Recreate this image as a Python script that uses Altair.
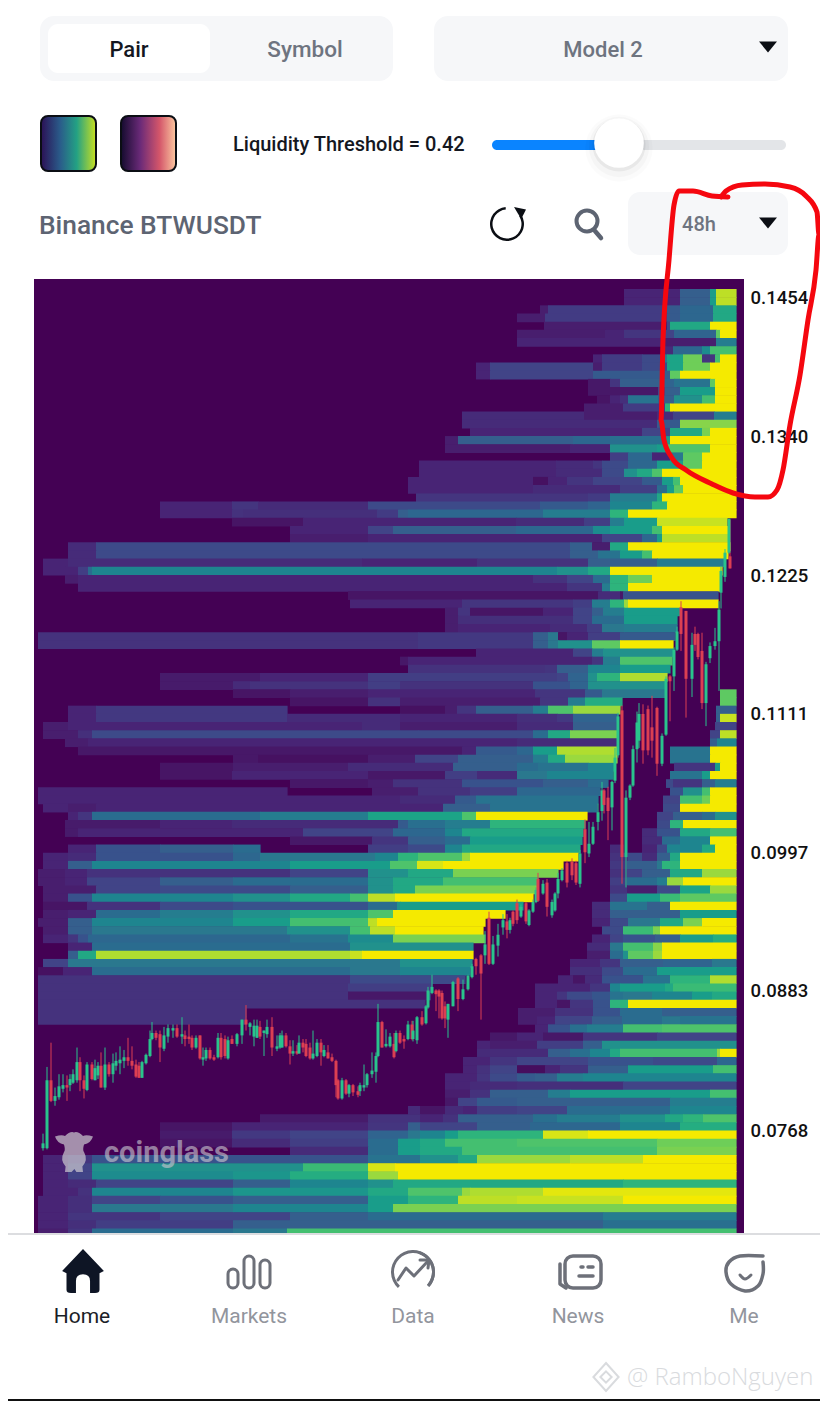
import math
import altair as alt
import pandas as pd

# ---------- price axis ----------
price_ticks = [0.1454, 0.1340, 0.1225, 0.1111, 0.0997, 0.0883, 0.0768]
row_top_price = 0.14614
row_step = 0.0006736
VIRIDIS_POS = [0, .1, .2, .3, .4, .5, .6, .7, .8, .9, 1]
VIRIDIS_COL = ["#440154", "#482475", "#414487", "#355f8d", "#2a788e", "#21918c",
               "#22a884", "#44bf70", "#7ad151", "#bddf26", "#f5ea00"]

# liquidity rows, top to bottom: (time position where a run starts, liquidity level)
heat_rows = [
[(624,.1),(680,.3),(710,.55),(716,.9)],
[(624,.1),(680,.3),(710,.55),(716,.9)],
[(540,.08),(548,.17),(667,.28),(680,.33),(713,.6)],
[(517,.08),(545,.17),(667,.28),(680,.33),(713,.6)],
[(544,.08),(667,.22),(670,.6),(710,1)],
[(517,.08),(605,.1),(624,.15),(665,.2),(674,.32),(716,.75),(720,1)],
[(517,.1),(665,.08),(716,.42)],
[(665,.12),(673,.33),(702,.48),(710,.7)],
[(593,.1),(602,.17),(642,.22),(665,.42),(667,.58),(683,.78),(702,.15),(715,.7),(720,1)],
[(476,.1),(490,.2),(593,.08),(602,.17),(642,.22),(667,.58),(683,.78),(710,1)],
[(476,.1),(490,.2),(593,.28),(665,.3),(670,.75),(680,1)],
[(588,.06),(610,.15),(620,.3),(665,.32),(674,.38),(710,.75),(715,1)],
[(588,.06),(658,.2),(665,.3),(680,.55),(715,1)],
[(597,.05),(610,.1),(620,.13),(628,.38),(658,.3),(674,.5),(702,.7),(715,1)],
[(584,.08),(623,.17),(665,.65),(670,1)],
[(462,.12),(584,.08),(657,.12),(673,.2),(714,.42)],
[(462,.12),(657,.28),(680,.82)],
[(470,.1),(642,.2),(670,.6),(702,.8),(710,1)],
[(445,.08),(458,.3),(573,.33),(610,.36),(663,.55),(670,1)],
[(445,.08),(570,.1),(610,.5),(657,.55),(667,.72),(710,1)],
[(610,.18),(628,.33),(652,.1),(670,.4),(683,.75),(702,1)],
[(419,.1),(556,.12),(593,.15),(602,.22),(628,.33),(657,.55),(683,.75),(702,1)],
[(419,.1),(556,.12),(602,.22),(624,.5),(637,.6),(652,.72),(662,1)],
[(408,.1),(533,.04),(548,.1),(567,.15),(593,.2),(642,.28),(662,.55),(673,.7),(680,1)],
[(408,.1),(533,.12),(620,.18),(657,.35),(667,.55),(674,.75),(683,1)],
[(416,.15),(588,.17),(610,.42),(657,.6),(662,1)],
[(160,.1),(232,.15),(258,.12),(368,.22),(540,.28),(588,.32),(610,.45),(652,.65),(667,1)],
[(160,.1),(232,.14),(243,.13),(377,.17),(398,.3),(408,.33),(543,.42),(610,.65),(628,1)],
[(232,.05),(303,.1),(516,.12),(584,.18),(610,.42),(624,.55),(657,.92),(727,0)],
[(290,.1),(368,.2),(393,.3),(516,.33),(593,.48),(610,.55),(652,.7),(662,1),(728,0)],
[(290,.08),(368,.1),(602,.2),(642,.33),(657,.55),(662,.9),(728,0)],
[(68,.12),(96,.22),(570,.3),(592,.08),(610,.6),(628,1),(730,0)],
[(68,.12),(96,.22),(570,.3),(598,.38),(620,.55),(642,.7),(652,1),(728,0)],
[(43,.1),(68,.12),(362,.1),(477,.14),(588,.3),(657,.42),(725,0)],
[(43,.1),(65,.1),(78,.18),(88,.35),(92,.45),(557,.5),(588,.6),(610,1),(722,0)],
[(65,.08),(78,.1),(533,.14),(567,.2),(593,.35),(610,.65),(628,.78),(652,1),(720,0)],
[(78,.1),(567,.15),(602,.42),(610,.65),(628,1),(720,0)],
[(348,.05),(598,.12),(620,.06),(623,.25),(718,0)],
[(350,.1),(462,.15),(573,.18),(592,.42),(610,.65),(624,.85),(628,1),(718,0)],
[(445,.08),(458,.15),(470,.05),(543,.1),(573,.2),(592,.3),(603,.42),(624,.55),(680,0)],
[(445,.08),(458,.13),(573,.2),(592,.35),(624,.55),(677,0)],
[(445,.08),(458,.1),(550,.12),(587,.18),(602,.4),(624,.42),(677,0)],
[(38,.14),(418,.16),(533,.3),(548,.4),(558,.05),(567,.1),(588,.18),(620,.28),(675,0)],
[(38,.14),(418,.16),(533,.3),(548,.4),(558,.5),(592,.75),(620,1),(673,0)],
[(476,.1),(573,.2),(592,.42),(603,.5),(673,0)],
[(400,.06),(408,.1),(592,.15),(603,.42),(620,.72),(672,0)],
[(408,.14),(545,.15),(557,.3),(588,.45),(620,.55),(670,0)],
[(160,.07),(260,.1),(368,.18),(557,.2),(568,.32),(588,.5),(597,.65),(620,.88),(667,0)],
[(160,.07),(233,.12),(250,.14),(368,.18),(400,.14),(533,.25),(570,.32),(588,.5),(665,0)],
[(233,.05),(290,.08),(368,.1),(535,.15),(585,.28),(602,.4),(665,0),(720,.75)],
[(290,.05),(368,.14),(400,.08),(540,.15),(568,.42),(585,.62),(622,0),(720,.75)],
[(68,.1),(96,.16),(287,0),(400,.04),(445,.08),(457,.15),(476,.3),(533,.42),(548,.72),(573,.85),(620,0),(716,.3)],
[(68,.1),(96,.16),(287,.12),(400,.1),(517,.13),(557,.16),(573,.32),(618,0),(716,.3),(720,.92)],
[(43,.08),(68,.1),(362,.12),(400,.08),(517,.12),(573,.3),(618,0),(715,.2)],
[(43,.08),(78,.13),(92,.22),(418,.22),(533,.35),(548,.6),(570,.8),(618,0),(710,.2),(720,.9)],
[(65,.08),(88,.1),(517,.12),(617,0),(710,.3),(717,.45)],
[(78,.06),(462,.1),(476,.28),(517,.33),(533,.55),(557,.88),(618,0),(670,.38),(710,1)],
[(233,.06),(258,.04),(368,.08),(415,.2),(458,.3),(533,.42),(548,.6),(565,.85),(617,0),(670,.38),(710,1)],
[(160,.05),(233,.08),(348,.12),(453,.3),(517,.35),(538,.38),(588,.45),(615,0),(674,.15),(715,.55),(720,1)],
[(160,.05),(232,.1),(368,.06),(445,.18),(477,.12),(517,.4),(547,.45),(613,0),(670,.38),(702,.55),(710,1)],
[(290,.06),(368,.08),(393,.14),(462,.25),(543,.3),(588,.35),(608,0),(666,.22),(673,.15),(702,.3),(715,.42)],
[(38,.1),(287,0),(372,.08),(418,.14),(470,.18),(517,.33),(600,0),(670,.25),(683,.5),(702,.7),(710,1)],
[(38,.1),(400,.12),(455,.28),(476,.38),(598,0),(663,.2),(680,.7),(702,.78),(710,1)],
[(43,.1),(68,.08),(96,.1),(443,.3),(490,.38),(597,0),(663,.22),(680,1)],
[(68,.1),(78,.15),(92,.35),(260,.42),(368,.58),(462,.72),(476,1),(587,0),(657,.2),(673,.3),(702,.35),(715,.5)],
[(65,.07),(160,.1),(232,.12),(398,.28),(408,.36),(445,.42),(490,.65),(585,0),(657,.22),(670,.65),(683,1)],
[(65,.07),(78,.1),(303,.2),(393,.33),(445,.45),(462,.6),(583,0),(642,.12),(657,.25),(680,.6),(710,.7)],
[(290,.06),(372,.15),(408,.3),(445,.35),(470,.55),(582,0),(642,.12),(662,.35),(680,.45),(710,1)],
[(68,.1),(96,.25),(160,.3),(233,.35),(260,0),(368,.18),(408,.22),(445,.45),(462,.6),(580,0),(610,.12),(623,0),(642,.1),(657,.22),(667,.45),(702,.6),(715,1)],
[(43,.1),(68,.12),(96,.25),(233,.33),(260,.4),(375,.45),(398,.65),(418,.72),(462,.85),(470,1),(578,0),(610,.14),(628,.22),(642,.12),(657,.3),(670,.6),(680,1)],
[(43,.1),(68,.3),(92,.45),(290,.55),(390,.72),(417,.95),(443,1),(563,0),(610,.16),(627,.3),(657,.4),(662,.65),(680,1)],
[(38,.08),(65,.1),(87,.14),(290,.2),(368,.5),(408,.6),(453,.8),(558,0),(610,.14),(627,.2),(642,.3),(670,.6),(702,.85)],
[(38,.08),(65,.1),(87,.2),(160,.3),(233,.35),(368,.5),(393,.6),(443,.7),(538,0),(610,.18),(627,.35),(657,.42),(667,.85),(683,1)],
[(43,.08),(96,.2),(160,.22),(290,.3),(368,.5),(393,.6),(415,.8),(537,0),(610,.15),(627,.08),(657,.22),(680,.58),(710,.85)],
[(43,.08),(68,.25),(92,.45),(233,.5),(290,.6),(350,.7),(368,.9),(395,1),(533,0),(610,.22),(627,.55),(660,.68),(680,.75)],
[(43,.05),(87,.14),(160,.22),(233,.25),(368,.35),(397,.5),(400,.55),(523,0),(592,.12),(610,.38),(647,.3),(670,1)],
[(43,.08),(68,.1),(96,.35),(160,.42),(233,.5),(290,.6),(368,.72),(393,1),(505,0),(592,.12),(610,.3),(680,.55)],
[(38,.08),(68,.3),(92,.45),(233,.55),(290,.7),(368,.9),(377,1),(485,0),(592,.1),(610,.22),(628,.4),(660,.6),(683,.8),(702,1)],
[(43,.08),(68,.3),(92,.4),(287,.5),(350,.7),(370,.9),(395,1),(483,0),(602,.22),(623,.68),(653,.8),(660,1)],
[(43,.1),(68,.15),(78,.25),(88,.33),(290,.38),(348,.48),(393,.8),(485,0),(592,.1),(610,.2),(623,.25),(655,.3),(680,.55),(713,.62)],
[(68,.1),(92,.35),(350,.5),(473,0),(587,.12),(610,.4),(623,.7),(653,.82),(662,1)],
[(68,.3),(78,.6),(96,.88),(350,.92),(362,1),(473,0),(587,.08),(610,.35),(623,.5),(628,.75),(653,.85),(662,1)],
[(43,.2),(68,.4),(400,.5),(472,0),(570,.1),(600,.15),(620,.3),(663,.32),(712,.4)],
[(38,.04),(63,.1),(92,.35),(350,.4),(400,.45),(470,0),(570,.13),(602,.22),(623,.35),(657,.55)],
[(38,.14),(350,.22),(465,0),(558,.1),(573,.05),(585,.12),(602,.25),(643,.38),(670,.65),(710,.88)],
[(38,.14),(348,.18),(432,0),(535,.1),(590,.15),(610,.45),(620,.55),(665,.6),(673,.68)],
[(38,.14),(348,.06),(427,.3),(430,0),(535,.1),(557,.15),(567,.22),(592,.26),(610,.38),(623,.4),(652,.45),(692,.55),(712,.6)],
[(38,.14),(425,0),(535,.1),(557,.05),(570,.15),(593,.25),(610,.65),(628,1)],
[(38,.14),(246,0),(518,.08),(555,.14),(593,.25),(620,.35),(662,.3)],
[(38,.14),(246,0),(518,.08),(537,.1),(555,.2),(592,.3),(622,.35),(662,.4),(680,.38)],
[(535,.1),(548,.25),(570,.36),(587,.42),(623,.7),(662,.72)],
[(490,.06),(517,.1),(543,.06),(583,.15),(657,.2)],
[(477,.1),(490,.08),(537,.18),(583,.3),(602,.5)],
[(477,.12),(548,.3),(570,.36),(590,.45),(610,.6),(620,.7),(717,.85),(720,1)],
[(463,.1),(490,.15),(517,.2),(588,.25),(653,.22),(717,.33)],
[(463,.1),(477,.14),(490,.2),(517,.03),(545,.1),(560,.15),(588,.3),(628,.55),(713,.7)],
[(445,.1),(477,.15),(490,.22),(517,.28),(535,.3),(557,.42),(583,.45)],
[(445,.1),(470,.12),(517,.13),(623,.2)],
[(445,.08),(470,.14),(490,.3),(548,.42),(570,.55),(710,.7)],
[(445,.06),(458,.2),(477,.28),(517,.3),(670,.42)],
[(408,.12),(420,.05),(445,.12),(463,.1),(477,.18),(517,.2),(567,.35),(670,.45)],
[(260,.07),(368,.14),(420,.1),(443,.14),(458,.3),(533,.36),(557,.42),(620,.5),(665,.6),(683,.65),(703,.72)],
[(160,.05),(232,.1),(368,.15),(408,.3),(420,.2),(477,.3),(530,.33),(620,.45),(680,.62)],
[(160,.07),(232,.16),(290,.2),(368,.32),(408,.4),(420,.45),(445,.55),(458,.65),(543,.95),(588,1)],
[(160,.05),(232,.12),(290,.18),(368,.35),(398,.55),(420,.6),(445,.7),(517,.72),(657,.78)],
[(290,.12),(368,.35),(398,.55),(420,.6),(462,.7),(657,.8)],
[(43,.1),(68,.15),(92,.25),(368,.38),(420,.5),(458,.6),(477,.85),(570,.9),(643,1)],
[(43,.1),(68,.2),(92,.5),(303,.68),(368,.95),(395,1)],
[(43,.1),(68,.2),(92,.48),(233,.52),(290,.62),(368,.85),(398,1)],
[(43,.1),(68,.12),(96,.2),(233,.3),(290,.45),(368,.5),(393,.6),(623,.65)],
[(43,.1),(78,.14),(92,.45),(233,.52),(368,.6),(408,.72),(462,.85),(470,.88),(543,.97)],
[(38,.1),(68,.13),(92,.2),(160,.25),(233,.3),(368,.55),(408,.65),(458,.9),(517,.92),(623,1)],
[(38,.1),(68,.13),(92,.4),(233,.45),(368,.55),(393,.8)],
[(38,.1),(68,.15),(160,.2),(290,.3),(368,.35),(603,.42)],
[(38,.1),(68,.13),(96,.18),(233,.3),(603,.36)],
[(38,.08),(68,.15),(92,.35),(233,.4),(287,.7)],
]

# candles: time, open, high, low, close (price in 1/10000)
candles = [
(43,753,765,751,757),(47,753,820,752,809),(51,809,840,791,792),(55,792,803,788,796),(59,795,814,793,804),
(63,802,814,799,805),(67,805,813,792,803),(70,805,814,800,810),(73,807,818,806,814),(77,809,836,807,824),
(80,824,828,800,809),(84,809,813,794,802),(87,801,824,800,822),(92,822,824,809,810),(95,809,826,809,819),
(98,813,824,810,821),(101,821,832,803,803),(105,803,836,801,822),(109,822,824,812,814),(113,814,831,807,823),
(116,821,832,817,825),(120,823,837,814,826),(124,825,834,819,828),(128,828,844,821,825),(132,825,837,818,821),
(136,822,826,811,812),(139,821,824,811,811),(142,811,825,811,824),(146,823,831,822,830),(150,829,850,828,843),
(152,843,857,842,848),(156,848,850,842,844),(160,847,850,824,836),(164,835,853,833,846),(168,845,855,840,852),
(173,850,855,844,852),(177,852,855,844,845),(182,845,861,839,847),(185,846,850,837,843),(189,845,855,839,843),
(192,844,846,834,836),(196,836,846,835,844),(200,846,846,826,827),(203,826,836,821,828),(206,827,836,825,834),
(210,834,836,826,827),(214,828,830,825,826),(218,828,848,827,844),(221,844,848,826,828),(225,843,846,827,829),
(228,827,845,826,842),(232,843,846,839,839),(237,839,848,837,847),(242,846,859,839,859),(246,859,871,850,855),
(250,853,857,846,856),(254,845,859,837,854),(257,844,859,844,854),(260,853,858,843,845),(264,848,850,829,850),
(267,847,859,844,853),(272,853,861,829,836),(277,835,846,833,837),(280,836,848,835,846),(282,836,850,836,846),
(286,846,848,836,837),(290,837,842,822,831),(293,831,842,829,833),(297,833,838,830,831),(299,831,846,831,840),
(303,840,843,832,836),(306,839,843,828,829),(310,836,840,826,827),(313,827,850,826,831),(317,829,843,828,840),
(321,840,843,821,832),(324,829,838,828,834),(328,832,838,827,827),(332,828,831,824,825),(336,825,826,795,805),
(338,809,810,793,794),(342,794,811,793,809),(346,809,810,797,798),(349,798,806,795,805),(353,805,806,796,799),
(358,800,804,795,797),(360,800,807,796,805),(364,803,822,800,805),(367,805,815,803,814),(372,814,832,811,817),
(376,816,832,807,829),(378,829,872,828,857),(382,857,858,836,836),(386,837,851,836,839),(390,837,848,836,845),
(394,839,848,827,828),(396,833,850,832,848),(400,848,850,839,840),(404,843,846,835,841),(408,843,858,842,855),
(412,855,858,842,843),(413,843,858,841,850),(417,842,862,839,861),(422,861,866,854,855),(426,856,871,855,870),
(428,869,886,868,883),(432,881,896,880,886),(436,883,884,866,880),(439,883,884,860,878),(442,881,883,859,860),
(445,870,874,852,860),(448,859,872,844,872),(453,870,891,870,890),(458,893,894,866,876),(463,876,892,875,884),
(468,884,896,883,895),(472,894,905,893,903),(476,909,910,896,903),(481,912,913,859,897),(485,912,932,905,921),
(489,943,948,904,905),(493,905,928,904,921),(498,920,938,911,929),(503,935,946,929,941),(507,940,946,926,933),
(510,933,943,930,941),(513,948,949,936,938),(517,955,958,938,941),(521,944,954,943,952),(526,955,956,938,940),
(529,937,950,936,949),(533,948,958,947,956),(536,956,968,955,966),(538,975,980,956,957),(543,963,974,962,971),
(547,972,975,944,952),(552,945,958,943,956),(555,949,964,948,963),(558,963,980,959,975),(562,974,984,973,982),
(567,988,990,968,972),(572,989,992,974,978),(576,988,990,970,972),(580,971,999,968,996),(585,1016,1024,988,997),
(589,996,1022,993,1004),(593,1004,1022,1003,1018),(598,1022,1037,1015,1030),(602,1031,1055,1023,1048),(604,1048,1049,1029,1036),
(608,1042,1051,1007,1031),(612,1034,1056,1015,1055),(615,1056,1083,1054,1075),(618,1077,1112,1075,1109),(622,1114,1118,971,993),
(626,993,1048,968,1042),(630,1042,1053,1040,1052),(633,1052,1085,1051,1082),(637,1082,1113,1071,1104),(639,1089,1120,1083,1111),
(643,1111,1119,1070,1081),(648,1115,1118,1077,1081),(652,1100,1126,1075,1089),(657,1116,1117,1060,1070),(662,1070,1095,1068,1093),
(666,1094,1142,1093,1140),(670,1142,1143,1105,1138),(674,1142,1166,1130,1164),(677,1164,1183,1163,1179),(681,1199,1204,1163,1177),
(686,1196,1196,1108,1140),(692,1140,1178,1125,1168),(695,1177,1183,1163,1168),(698,1177,1178,1156,1158),(702,1163,1178,1115,1120),
(706,1120,1154,1101,1152),(710,1157,1170,1153,1167),(715,1167,1182,1164,1171),(719,1171,1204,1130,1197),(721,1211,1233,1198,1229),
(725,1224,1247,1220,1244),(729,1244,1272,1243,1272),(730,1241,1271,1231,1231),
]

# hand-drawn annotation (page positions)
red_stroke = [(728,197),(712,196),(693,191),(679,191),(674,205),(669,260),(663,340),(661,420),(664,440),(672,458),(686,470),
              (712,484),(733,493),(755,497),(768,497),(777,490),(783,470),(790,425),(800,375),(808,320),(816,270),(819,235),
              (817,212),(806,196),(790,187),(765,184),(742,185),(726,191),(721,197)]

PX_W, PX_H = 812, 1393
X0, Y0 = 8, 8
x_px = alt.Scale(domain=[X0, X0 + PX_W])
y_px = alt.Scale(domain=[Y0, Y0 + PX_H], reverse=True)
def price_at(py):
    return 0.0768 + (1130 - py) * 8.245e-5
y_price = alt.Scale(domain=[price_at(Y0 + PX_H), price_at(Y0)])

def X(f="x"): return alt.X(f + ":Q", scale=x_px, axis=None)
def Y(f="y"): return alt.Y(f + ":Q", scale=y_px, axis=None)

def rect(x, x2, y, y2, **m):
    d = pd.DataFrame([dict(x=x, x2=x2, y=y, y2=y2)])
    return alt.Chart(d).mark_rect(**m).encode(x=X(), x2="x2:Q", y=Y(), y2="y2:Q")

def text(s, x, y, size, color, weight=400, align="center", font="Roboto", **m):
    d = pd.DataFrame([dict(x=x, y=y, t=s)])
    return alt.Chart(d).mark_text(fontSize=size, color=color, fontWeight=weight, align=align,
                                  baseline="middle", font=font, **m).encode(x=X(), y=Y(), text="t:N")

def point(x, y, shape, width, color, filled=True, **m):
    d = pd.DataFrame([dict(x=x, y=y)])
    return alt.Chart(d).mark_point(shape=shape, size=width * width, filled=filled, color=color,
                                   opacity=m.pop("opacity", 1), **m).encode(x=X(), y=Y())

def circle(x, y, r, color, opacity=1.0):
    d = pd.DataFrame([dict(x=x, y=y)])
    return alt.Chart(d).mark_circle(size=math.pi * r * r, color=color, opacity=opacity).encode(x=X(), y=Y())

def ring(x, y, r, r2, t0, t1, color):
    d = pd.DataFrame([dict(x=x, y=y)])
    return alt.Chart(d).mark_arc(radius=r, radius2=r2, theta=t0, theta2=t1, color=color).encode(x=X(), y=Y())

def poly(pts, color, width, interp="linear"):
    d = pd.DataFrame([dict(x=a, y=b, i=k) for k, (a, b) in enumerate(pts)])
    return alt.Chart(d).mark_line(color=color, strokeWidth=width, interpolate=interp, strokeCap="round",
                                  strokeJoin="round").encode(x=X(), y=Y(), order="i:Q")

# ---------- heat map ----------
recs = []
for k, row in enumerate(heat_rows):
    top = row_top_price - k * row_step
    for j, (x0, lv) in enumerate(row):
        x1 = row[j + 1][0] if j + 1 < len(row) else 736
        if lv > 0:
            # small overlap so that neighbouring runs leave no hairline seams
            recs.append(dict(x=x0, x2=x1 + 0.6, p=top, p2=top - row_step * 1.07, lv=lv))
heat_df = pd.DataFrame(recs)

base = alt.Chart(pd.DataFrame([dict(x=34, x2=744, p=price_at(279), p2=price_at(1233))])).mark_rect(color="#440154").encode(
    x=X(), x2="x2:Q",
    y=alt.Y("p:Q", scale=y_price,
            axis=alt.Axis(orient="right", values=price_ticks, format=".4f", offset=-70, domain=False, ticks=False,
                          grid=False, title=None, labelFontSize=18.5, labelColor="#111111", labelFont="Roboto",
                          labelFontWeight=500, labelPadding=0, labelAlign="left", labelBaseline="middle",
                          labelOverlap=False, labelFlush=False)),
    y2="p2:Q")

heat = alt.Chart(heat_df).mark_rect().encode(
    x=X(), x2="x2:Q",
    y=alt.Y("p:Q", scale=y_price, axis=None), y2="p2:Q",
    color=alt.Color("lv:Q", legend=None, scale=alt.Scale(domain=VIRIDIS_POS, range=VIRIDIS_COL)))

# ---------- candles ----------
cd = pd.DataFrame(candles, columns=["t", "o", "h", "l", "c"])
for col in "ohlc":
    cd[col] = cd[col] / 10000
cd["col"] = ["#29c48c" if c >= o else "#dc3f52" for o, c in zip(cd.o, cd.c)]
cd["t1"] = cd.t - 1.5
cd["t2"] = cd.t + 1.5
wick = alt.Chart(cd).mark_rule(strokeWidth=1).encode(
    x=X("t"), y=alt.Y("h:Q", scale=y_price, axis=None), y2="l:Q", color=alt.Color("col:N", scale=None))
body = alt.Chart(cd).mark_rect().encode(
    x=X("t1"), x2="t2:Q", y=alt.Y("o:Q", scale=y_price, axis=None), y2="c:Q", color=alt.Color("col:N", scale=None))

# ---------- interface ----------
BOX = "#f6f7f9"
GREY = "#5d6472"
L = []
L += [rect(40, 393, 16, 81, color=BOX, cornerRadius=14), rect(48, 210, 24, 73, color="#ffffff", cornerRadius=10),
      rect(434, 788, 16, 81, color=BOX, cornerRadius=14), rect(628, 788, 192, 255, color=BOX, cornerRadius=12)]
L += [text("Pair", 129, 50, 22, "#14171f", 500), text("Symbol", 305, 50, 22.5, "#6e7480", 500),
      text("Model 2", 603, 50, 22, "#6e7480", 500), text("48h", 699, 225, 20, "#6e7480", 500)]
TRI = "M-1,-0.6 L1,-0.6 L0,0.6 Z"
L += [point(768, 47, TRI, 18, "#0b0e14"), point(768, 223, TRI, 18, "#0b0e14")]

def grad(cols):
    return alt.LinearGradient(gradient="linear", x1=0, x2=1, y1=0, y2=0,
                              stops=[alt.GradientStop(color=c, offset=o) for o, c in cols])
vir = grad([(0, "#2b1055"), (.35, "#2a5c8a"), (.65, "#23a184"), (1, "#c9e020")])
mag = grad([(0, "#140b2e"), (.35, "#6a2a78"), (.7, "#d4566a"), (1, "#fcc9a0")])
L += [rect(41, 96, 116, 171, fill=vir, stroke="#0b0e14", strokeWidth=2, cornerRadius=7),
      rect(121, 176, 116, 171, fill=mag, stroke="#0b0e14", strokeWidth=2, cornerRadius=7)]
L += [text("Liquidity Threshold = 0.42", 233, 145, 20, "#14171f", 500, align="left")]
L += [rect(640, 786, 140, 150, color="#e3e5e8", cornerRadius=5), rect(492, 600, 140, 150, color="#0a84ff", cornerRadius=5)]
L += [circle(619, 148, 38, "#000000", .015), circle(619, 147, 34, "#000000", .025), circle(619, 145, 30, "#000000", .05),
      circle(619, 143, 28, "#ffffff")]
L += [text("Binance BTWUSDT", 39, 226, 26.3, GREY, 500, align="left")]
L += [ring(507, 224, 17, 14.5, 1.0, 6.2, "#0b0e14"), point(520, 213, "M-1,-1 L1,-0.6 L0.2,1 Z", 12, "#0b0e14")]
L += [ring(587, 221, 12.5, 8.5, 0, 6.29, GREY), poly([(595, 231), (601, 238)], GREY, 4.5)]

# tab bar
L += [rect(0, 828, 1233, 1401, color="#ffffff"), rect(0, 828, 1233, 1235, color="#dcdde0")]
HOME = ("M0,-1 L0.95,0 L0.75,0.1 L0.75,0.85 Q0.75,1 0.55,1 L0.32,1 L0.32,0.45 Q0.32,0.15 0,0.15 "
        "Q-0.32,0.15 -0.32,0.45 L-0.32,1 L-0.55,1 Q-0.75,1 -0.75,0.85 L-0.75,0.1 L-0.95,0 Z")
L += [point(83, 1271, HOME, 44, "#0e1525")]
ICON = "#6d7079"
for a, b, t in [(228, 238, 1269), (244, 254, 1256), (260, 270, 1260)]:
    L += [rect(a, b, t, 1288, fill="#ffffff", stroke=ICON, strokeWidth=3, cornerRadius=5)]
L += [ring(413, 1272, 22, 19, 3.9, 8.6, ICON), ring(413, 1272, 22, 19, 0.3, 2.3, ICON)]
L += [poly([(398, 1280), (406, 1268), (414, 1276), (428, 1261)], ICON, 3),
      poly([(420, 1260), (429, 1260), (428, 1268)], ICON, 3)]
L += [rect(565, 601, 1256, 1288, fill="#ffffff", stroke=ICON, strokeWidth=3.5, cornerRadius=8),
      poly([(560, 1264), (560, 1284), (566, 1288)], ICON, 3.5),
      poly([(581, 1267), (583, 1267)], ICON, 3.5), poly([(588, 1267), (593, 1267)], ICON, 3.5),
      poly([(579, 1276), (593, 1276)], ICON, 3.5)]
L += [poly([(763, 1256), (740, 1256), (729, 1262), (726, 1272), (731, 1284), (745, 1291), (758, 1286), (763, 1274), (763, 1262)],
           ICON, 3.5, "cardinal"),
      poly([(740, 1275), (745, 1279), (751, 1275)], ICON, 3, "monotone")]
L += [text("Home", 82, 1317, 21, "#1b1e27", 400), text("Markets", 249, 1317, 21, "#92959d", 400),
      text("Data", 413, 1317, 21, "#92959d", 400), text("News", 578, 1317, 21, "#92959d", 400),
      text("Me", 744, 1317, 21, "#92959d", 400)]

# watermarks
COW = ("M-0.95,-0.78 Q-0.6,-0.88 -0.45,-0.8 Q-0.2,-1.05 0,-0.98 Q0.2,-1.05 0.45,-0.8 Q0.6,-0.88 0.95,-0.78 Q0.85,-0.45 0.5,-0.38 "
       "Q0.42,-0.1 0.5,0 Q0.72,0.4 0.42,0.72 L0.45,1 L0.12,1 L0.02,0.85 L-0.12,1 L-0.45,1 L-0.42,0.72 Q-0.72,0.4 -0.5,0 "
       "Q-0.42,-0.1 -0.5,-0.38 Q-0.85,-0.45 -0.95,-0.78 Z")
wm = [point(74, 1152, COW, 40, "#c9c6cf", opacity=.72),
      text("coinglass", 104, 1153, 29, "#c9c6cf", 700, align="left", opacity=.62)]
L += [text("@ RamboNguyen", 627, 1378, 24, "#d9dbde", 300, align="left", font="Open Sans"),
      point(606, 1377, "M0,-1 L0.9,0 L0,1 L-0.9,0 Z M0,-0.4 L0.4,0 L0,0.4 L-0.4,0 Z", 28, "#d9dbde", filled=False, strokeWidth=2)]
L += [rect(0, 828, 1399, 1401, color="#111111")]

red = poly(red_stroke, "#f5070f", 5, "monotone")

chart = alt.layer(base, heat, wick, body, *wm, *L, red).resolve_scale(y="independent", color="independent").properties(
    width=PX_W, height=PX_H, padding=0, autosize=alt.AutoSizeParams(type="none"),
    background="#ffffff").configure_view(stroke=None)

chart.save("out.html", embed_options={"renderer": "svg", "actions": False})
